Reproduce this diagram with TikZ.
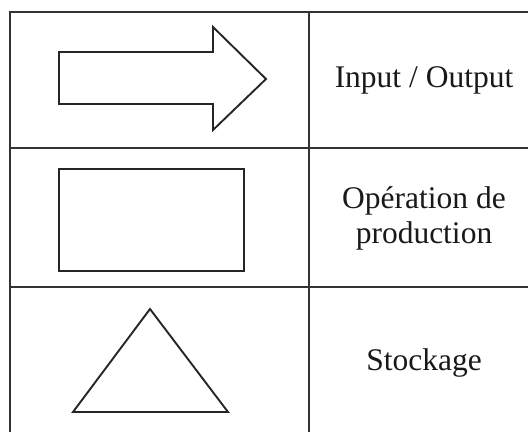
\documentclass[tikz,border=0pt]{standalone}
\usepackage{fontspec}
\setmainfont{Liberation Serif}
\begin{document}
\begin{tikzpicture}[x=1pt,y=-1pt,
  grid/.style={draw=black!80,line width=1.7pt},
  symbol/.style={draw=black!85,line width=1.9pt,line join=miter},
  legend/.style={font=\fontsize{31.5}{35}\selectfont,align=center,text=black!90,inner sep=0pt}]
\useasboundingbox (0,0) rectangle (528,432);

% table grid
\draw[grid] (528,12) -- (10,12) -- (10,432);
\draw[grid] (309,12) -- (309,432);
\draw[grid] (10,148) -- (528,148);
\draw[grid] (10,287) -- (528,287);

% symbols
\draw[symbol] (59,52) -- (213,52) -- (213,27) -- (266,79) -- (213,130)
  -- (213,104) -- (59,104) -- cycle;
\draw[symbol] (59,169) rectangle (244,271);
\draw[symbol] (150,309) -- (228,412) -- (73,412) -- cycle;

% descriptions
\node[legend] (io) at (424,80) {Input / Output};
\node[legend] (op) at (424,218) {Opération de\\production};
\node[legend] (st) at (424,363) {Stockage};
\end{tikzpicture}
\end{document}
